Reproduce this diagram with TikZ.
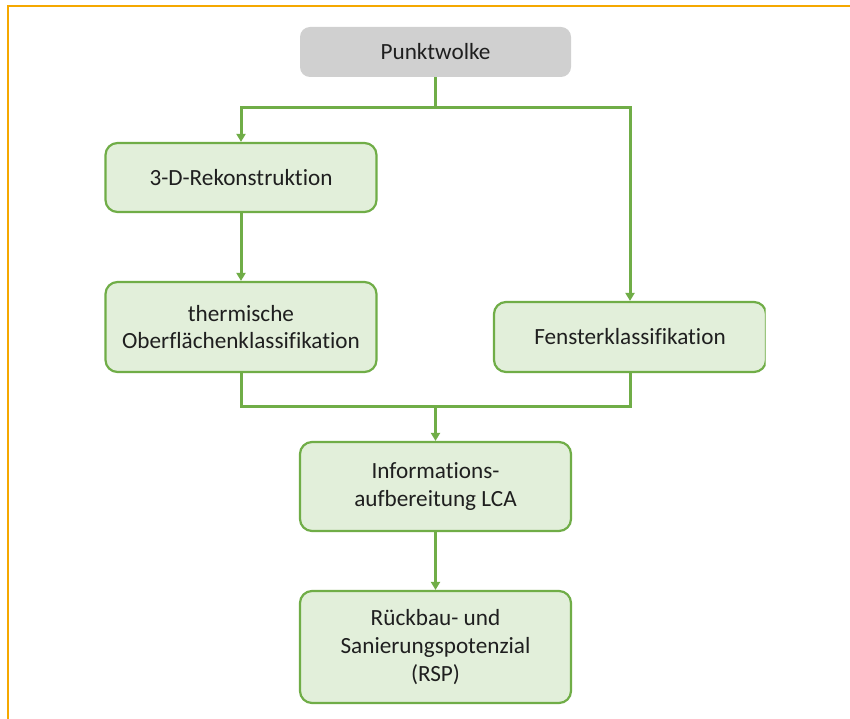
\documentclass[tikz,border=0pt]{standalone}
\usepackage{fontspec}
\setmainfont{Carlito}[Ligatures=NoCommon]
\usetikzlibrary{arrows.meta}
\definecolor{gline}{HTML}{70AD47}
\definecolor{gfill}{HTML}{E2EFDA}
\definecolor{pgray}{HTML}{D0D0D0}
\definecolor{oframe}{HTML}{F5A800}
\tikzset{
  box/.style={draw=gline, line width=2.2pt, fill=gfill, rounded corners=12pt,
    minimum width=271pt, align=center, inner sep=0pt,
    font=\fontsize{23.2}{27.7}\selectfont, text=black!88},
  topbox/.style={fill=pgray, rounded corners=10pt, minimum width=271pt,
    minimum height=50pt, inner sep=0pt, font=\fontsize{23.2}{27.7}\selectfont, text=black!88},
  conn/.style={draw=gline, line width=3pt},
  arr/.style={conn, -{Triangle[length=8pt,width=9pt]}}
}
\begin{document}
\begin{tikzpicture}[x=1pt,y=-1pt]
\useasboundingbox (0,0) rectangle (850,719);
\fill[white] (0,0) rectangle (850,719);
\draw[oframe, line width=2pt] (8.3,719) -- (8.3,5.6) -- (850,5.6);

\node[topbox] (pw) at (435.5,52) {Punktwolke};
\node[box, minimum height=69pt] (rek) at (241,177.5) {3-D-Rekonstruktion};
\node[box, minimum height=90pt] (therm) at (241,327) {thermische\\Oberflächenklassifikation};
\begin{scope}
\clip (0,0) rectangle (765.5,719);
\node[box, minimum height=70pt, minimum width=272pt] (fen) at (630,337) {Fensterklassifikation};
\end{scope}
\node[box, minimum height=89pt] (info) at (435.5,486.5) {Informations-\\aufbereitung LCA};
\node[box, minimum height=112pt] (rsp) at (435.5,647) {Rückbau- und\\Sanierungspotenzial\\(RSP)};

\coordinate (j1) at (435.5,108);
\coordinate (j2) at (435.5,406);
\draw[conn] (pw.south) -- (j1);
\draw[arr] (j1) -| (rek.north);
\draw[arr] (j1) -| (fen.north);
\draw[arr] (rek.south) -- (therm.north);
\draw[conn] (therm.south) |- (j2);
\draw[conn] (fen.south) |- (j2);
\draw[arr] (j2) -- (info.north);
\draw[arr] (info.south) -- (rsp.north);
\end{tikzpicture}
\end{document}
